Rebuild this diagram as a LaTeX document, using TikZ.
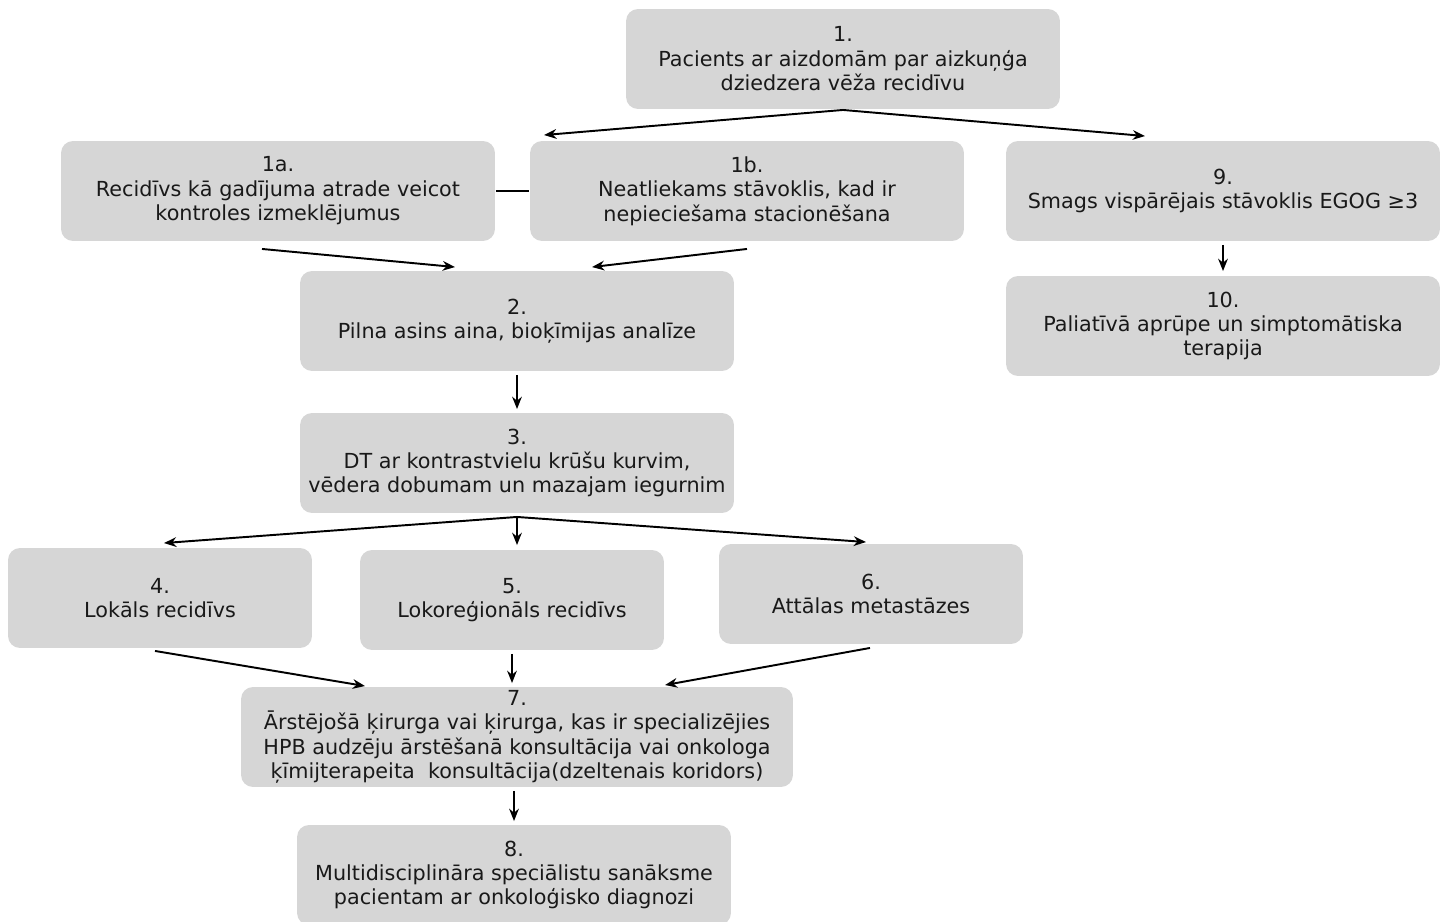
\documentclass[tikz,border=0pt]{standalone}
\usepackage{fontspec}
\setmainfont{DejaVu Sans}
\usetikzlibrary{calc,arrows.meta}
\definecolor{boxgray}{RGB}{214,214,214}
\definecolor{txtgray}{RGB}{25,25,25}

\begin{document}
\begin{tikzpicture}[x=0.02cm, y=-0.02cm, >={Stealth[length=7pt,width=5.5pt]}, line width=1.1pt,
	box/.style={fill=boxgray, rounded corners=0.24cm, minimum width=8.68cm, minimum height=2cm,
		align=center, inner sep=0pt, text=txtgray, font=\fontsize{11.8pt}{13.9pt}\selectfont},
	smallbox/.style={box, minimum width=6.08cm}]
	\useasboundingbox (0,0) rectangle (1450,922);
	
	% 1. 第一层
	\node[box] (n1) at (843,59) {1.\\Pacients ar aizdomām par aizkuņģa\\dziedzera vēža recidīvu};
	\node[box] (n1a) at (278,191) {1a.\\Recidīvs kā gadījuma atrade veicot\\kontroles izmeklējumus};
	\node[box] (n1b) at (747,191) {1b.\\Neatliekams stāvoklis, kad ir\\nepieciešama stacionēšana};
	\node[box] (n9) at (1223,191) {9.\\Smags vispārējais stāvoklis EGOG ≥3};
	\node[box] (n10) at (1223,326) {10.\\Paliatīvā aprūpe un simptomātiska\\terapija};
	
	% 2. 检查
	\node[box] (n2) at (517,321) {2.\\Pilna asins aina, bioķīmijas analīze};
	\node[box] (n3) at (517,463) {3.\\DT ar kontrastvielu krūšu kurvim,\\vēdera dobumam un mazajam iegurnim};
	
	% 3. 复发类型
	\node[smallbox] (n4) at (160,598) {4.\\Lokāls recidīvs};
	\node[smallbox] (n5) at (512,600) {5.\\Lokoreģionāls recidīvs};
	\node[smallbox] (n6) at (871,594) {6.\\Attālas metastāzes};
	
	% 4. 会诊
	\node[box, minimum width=11.04cm] (n7) at (517,737) {7.\\Ārstējošā ķirurga vai ķirurga, kas ir specializējies\\HPB audzēju ārstēšanā konsultācija vai onkologa\\ķīmijterapeita\ \ konsultācija(dzeltenais koridors)};
	\node[box] (n8) at (514,875) {8.\\Multidisciplināra speciālistu sanāksme\\pacientam ar onkoloģisko diagnozi};
	
	% 5. 箭头
	\draw[->] (n1.south) -- ($(n1b.north west)+(15,-5)$);
	\draw[->] (n1.south) -- ($(n9.north)+(-78,-4)$);
	\draw (n1a.east) -- (n1b.west);
	\draw[->] ($(n1a.south)+(-16,7)$) -- ($(n2.north)+(-62,-3)$);
	\draw[->] ($(n1b.south)+(0,7)$) -- ($(n2.north)+(75,-3)$);
	\draw[->] ($(n9.south)+(0,3)$) -- ($(n10.north)+(0,-4)$);
	\draw[->] ($(n2.south)+(0,3)$) -- ($(n3.north)+(0,-3)$);
	\draw[->] ($(n3.south)+(0,3)$) -- ($(n4.north)+(4,-4)$);
	\draw[->] ($(n3.south)+(0,3)$) -- ($(n5.north)+(5,-4)$);
	\draw[->] ($(n3.south)+(0,3)$) -- ($(n6.north)+(-5,-1)$);
	\draw[->] ($(n4.south)+(-5,2)$) -- ($(n7.north)+(-152,0)$);
	\draw[->] ($(n5.south)+(0,3)$) -- ($(n7.north)+(-5,-3)$);
	\draw[->] ($(n6.south)+(-1,3)$) -- ($(n7.north)+(148,-1)$);
	\draw[->] ($(n7.south)+(-3,3)$) -- ($(n8.north)+(0,-3)$);
\end{tikzpicture}
\end{document}
